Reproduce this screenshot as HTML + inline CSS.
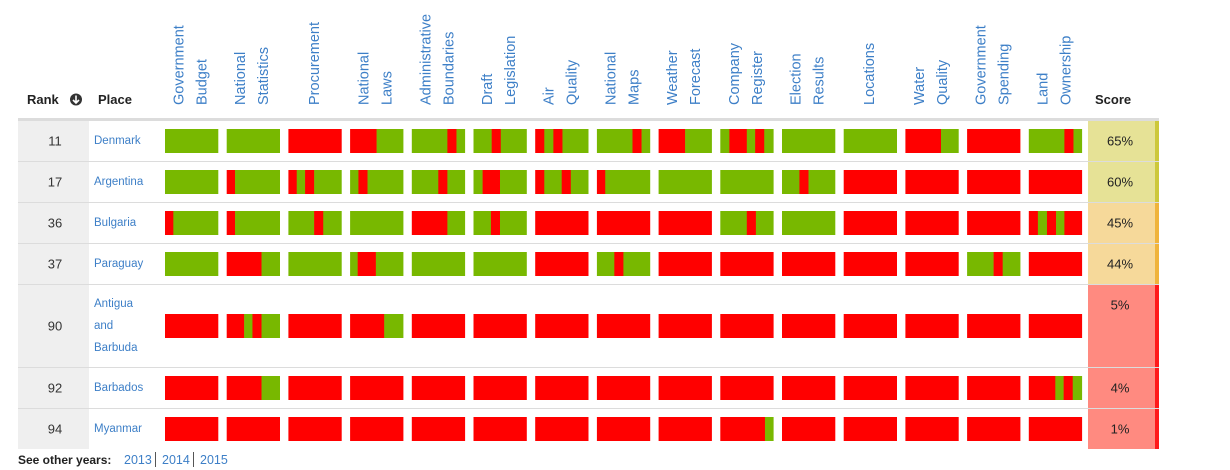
<!DOCTYPE html>
<html><head><meta charset="utf-8">
<style>
html,body{margin:0;padding:0;background:#fff;width:1230px;height:470px;overflow:hidden;font-family:"Liberation Sans",sans-serif;}
svg{position:absolute;left:0;top:0;}
</style></head>
<body>
<svg id="chart" width="1230" height="470"></svg>
<script>
const categories = [["Government","Budget"],["National","Statistics"],["Procurement"],["National","Laws"],["Administrative","Boundaries"],["Draft","Legislation"],["Air","Quality"],["National","Maps"],["Weather","Forecast"],["Company","Register"],["Election","Results"],["Locations"],["Water","Quality"],["Government","Spending"],["Land","Ownership"]];
const ranks = [11,17,36,37,90,92,94];
const places = [["Denmark"],["Argentina"],["Bulgaria"],["Paraguay"],["Antigua","and","Barbuda"],["Barbados"],["Myanmar"]];
const scores = [65,60,45,44,5,4,1];
const years = ["2013","2014","2015"];
const cells = [
 ["G7","G7","R7","R3.5 G3.5","G4.7 R1.2 G1.1","G2.4 R1.2 G3.4","R1.2 G1.2 R1.2 G3.4","G4.7 R1.2 G1.1","R3.5 G3.5","G1.2 R2.3 G1.1 R1.2 G1.2","G7","G7","R4.7 G2.3","R7","G4.7 R1.2 G1.1"],
 ["G7","R1.1 G5.9","R1.1 G1.1 R1.2 G3.6","G1.1 R1.2 G4.7","G3.5 R1.2 G2.3","G1.2 R2.3 G3.5","R1.2 G2.3 R1.2 G2.3","R1.1 G5.9","G7","G7","G2.3 R1.2 G3.5","R7","R7","R7","R7"],
 ["R1.1 G5.9","R1.1 G5.9","G3.4 R1.2 G2.4","G7","R4.7 G2.3","G2.3 R1.2 G3.5","R7","R7","R7","G3.5 R1.2 G2.3","G7","R7","R7","R7","R1.2 G1.2 R1.2 G1.1 R2.3"],
 ["G7","R4.6 G2.4","G7","G1 R2.4 G3.6","G7","G7","R7","G2.3 R1.2 G3.5","R7","R7","R7","R7","R7","G3.5 R1.2 G2.3","R7"],
 ["R7","R2.3 G1.1 R1.2 G2.4","R7","R4.5 G2.5","R7","R7","R7","R7","R7","R7","R7","R7","R7","R7","R7"],
 ["R7","R4.6 G2.4","R7","R7","R7","R7","R7","R7","R7","R7","R7","R7","R7","R7","R3.5 G1.1 R1.2 G1.2"],
 ["R7","R7","R7","R7","R7","R7","R7","R7","R7","R5.9 G1.1","R7","R7","R7","R7","R7"]
];
const rowHeights = [40,40,40,40,82,40,40];

const NS="http://www.w3.org/2000/svg";
const svg=document.getElementById('chart');
function mk(tag,attrs,parent){const e=document.createElementNS(NS,tag);for(const k in attrs)e.setAttribute(k,attrs[k]);(parent||svg).appendChild(e);return e;}
const colX = i => 165 + i*61.7;
const colW = 53;
const blue="#3d7fc7";
const COLORS={G:"#78b800",R:"#ff0000"};
function scoreColors(s){ if(s>=55) return ["#e6e296","#cdc83a"]; if(s>=30) return ["#f6d99a","#f0b43c"]; return ["#ff8a80","#ff1a1a"]; }

let t=mk('text',{x:27,y:104,'font-size':13,fill:'#222','font-weight':'bold'});
t.textContent='Rank';


let ic=mk('g',{});


mk('circle',{cx:76,cy:99.5,r:6,fill:'#333'},ic);
mk('path',{d:'M76 95.5 V103 M73 100 L76 103 L79 100',stroke:'#fff','stroke-width':1.6,fill:'none'},ic);
t=mk('text',{x:98,y:104,'font-size':13,fill:'#222','font-weight':'bold'});
t.textContent='Place';


t=mk('text',{x:1095,y:104,'font-size':13,fill:'#222','font-weight':'bold'});
t.textContent='Score';



categories.forEach((words,i)=>{
  const cx=colX(i)+colW/2;
  const g=mk('g',{});
  
  
  words.forEach((w,j)=>{
    const x = words.length===1 ? cx : cx + (j===0?-12:11);
    const tx=mk('text',{x:0,y:0,'font-size':14.5,fill:blue,'text-anchor':'start','dominant-baseline':'central',transform:`translate(${x},105) rotate(-90)`},g);
    tx.textContent=w;
  });
});

mk('rect',{x:18,y:118,width:1141,height:3,fill:'#dcdcdc'});

let y=121;
ranks.forEach((r,ri)=>{
  const h=rowHeights[ri];
  const row=mk('g',{});
  
  
  mk('rect',{x:18,y:y,width:71,height:h,fill:'#efefef'},row);
  const rt=mk('text',{x:55,y:y+h/2,'font-size':13,fill:'#333','text-anchor':'middle','dominant-baseline':'central'},row);
  rt.textContent=r;
  const pl=places[ri];
  const pg=mk('g',{},row);
  
  
  pl.forEach((w,k)=>{
    const pt=mk('text',{x:94,y:y+h/2+(k-(pl.length-1)/2)*22,'font-size':11.5,fill:blue,'dominant-baseline':'central'},pg);
    pt.textContent=w;
  });
  const by=y+h/2-12;
  cells[ri].forEach((c,ci)=>{
    const segs=c.split(' ').map(s=>[s[0],parseFloat(s.slice(1))]);
    const tot=segs.reduce((a,b)=>a+b[1],0);
    const cg=mk('g',{},row);
    
    
    let x=colX(ci);
    segs.forEach(s=>{
      const w=s[1]/tot*colW;
      const rr=mk('rect',{x:x,y:by,width:w+0.3,height:24,fill:COLORS[s[0]]},cg);
      
      
      x+=w;
    });
  });
  const sc=scoreColors(scores[ri]);
  const sr=mk('rect',{x:1088,y:y,width:67,height:h,fill:sc[0]},row);
  
  
  mk('rect',{x:1155,y:y,width:4,height:h,fill:sc[1]},row);
  const st=mk('text',{x:1120,y:y+20,'font-size':13,fill:'#222','text-anchor':'middle','dominant-baseline':'central'},row);
  st.textContent=scores[ri]+'%';
  if(ri<ranks.length-1) mk('rect',{x:18,y:y+h,width:1141,height:1,fill:'#dcdcdc'});
  y+=h+1;
});

t=mk('text',{x:18,y:464,'font-size':12,fill:'#222','font-weight':'bold'});
t.textContent='See other years:';


let fx=124;
years.forEach((yr,i)=>{
  const a=mk('text',{x:fx,y:464,'font-size':12.5,fill:blue});
  a.textContent=yr;
  
  
  fx+=31;
  if(i<years.length-1){ mk('rect',{x:fx,y:452,width:1,height:15,fill:'#555'}); fx+=7; }
});
</script>
</body></html>
